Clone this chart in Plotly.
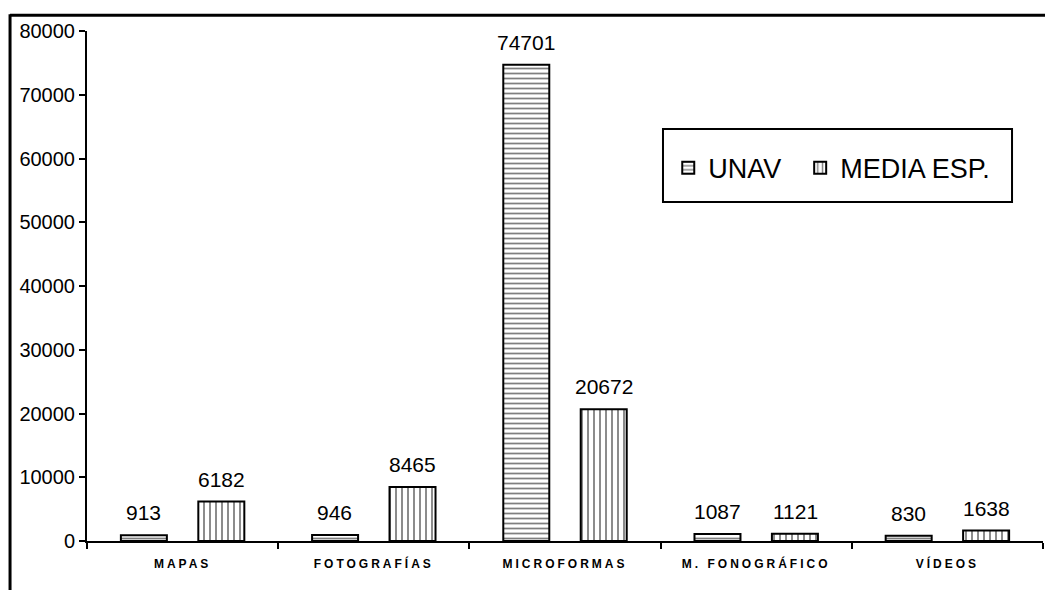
import plotly.graph_objects as go

categories = ["MAPAS", "FOTOGRAFÍAS", "MICROFORMAS", "M. FONOGRÁFICO", "VÍDEOS"]
unav = [913, 946, 74701, 1087, 830]
media_esp = [6182, 8465, 20672, 1121, 1638]
y_ticks = [0, 10000, 20000, 30000, 40000, 50000, 60000, 70000, 80000]

FONT = "Liberation Sans, Arial, sans-serif"

fig = go.Figure()
fig.add_trace(go.Bar(
    x=categories, y=unav, name="UNAV", legend="legend",
    marker=dict(color="white", line=dict(color="black", width=2),
                pattern=dict(shape="-", fgcolor="black", bgcolor="white", size=5, solidity=0.35)),
))
fig.add_trace(go.Bar(
    x=categories, y=media_esp, name="MEDIA ESP.", legend="legend2",
    marker=dict(color="white", line=dict(color="black", width=2),
                pattern=dict(shape="|", fgcolor="black", bgcolor="white", size=6, solidity=0.3)),
))

annotations = []
for series, shift in ((unav, -39), (media_esp, 39)):
    for cat, val in zip(categories, series):
        annotations.append(dict(x=cat, y=val, xref="x", yref="y", text=str(val),
                                showarrow=False, xshift=shift, yshift=9, yanchor="bottom",
                                font=dict(size=21, family=FONT, color="black")))

legend_style = dict(orientation="h", xanchor="left", yanchor="middle",
                    font=dict(size=27, family=FONT, color="black"),
                    bgcolor="rgba(0,0,0,0)", borderwidth=0)

fig.update_layout(
    width=1045, height=582,
    margin=dict(l=79, r=10, t=23, b=49),
    paper_bgcolor="white", plot_bgcolor="white",
    barmode="group", bargap=0.19, bargroupgap=0.406,
    font=dict(family=FONT, color="black"),
    showlegend=True,
    legend=dict(x=0.608, y=0.731, **legend_style),
    legend2=dict(x=0.746, y=0.731, **legend_style),
    xaxis=dict(showline=True, linecolor="black", linewidth=2, ticks="outside",
               tickson="boundaries", ticklen=6, tickcolor="black", tickwidth=2,
               ticklabelstandoff=11,
               tickfont=dict(size=12, family=FONT, color="black", weight="bold"),
               showgrid=False, zeroline=False),
    yaxis=dict(range=[0, 80000], tickvals=y_ticks, ticktext=[str(v) for v in y_ticks],
               showline=True, linecolor="black", linewidth=2, ticks="outside",
               ticklen=6, tickcolor="black", tickwidth=2,
               tickfont=dict(size=20, family=FONT, color="black"),
               showgrid=False, zeroline=False),
    annotations=annotations,
    shapes=[
        # legend box
        dict(type="rect", xref="paper", yref="paper", x0=0.6025, x1=0.9676, y0=0.6647, y1=0.8078,
             line=dict(color="black", width=2), fillcolor="rgba(0,0,0,0)", layer="below"),
        # outer frame: left and top
        dict(type="line", xref="paper", yref="paper", x0=-0.0805, x1=-0.0805, y0=-0.12, y1=1.033,
             line=dict(color="black", width=3)),
        dict(type="line", xref="paper", yref="paper", x0=-0.0805, x1=1.02, y0=1.031, y1=1.031,
             line=dict(color="black", width=3)),
    ],
)

post = """
document.querySelectorAll('.xtick text').forEach(function(t){ t.style.letterSpacing='3px'; });
"""
fig.write_html("out.html", post_script=post)
